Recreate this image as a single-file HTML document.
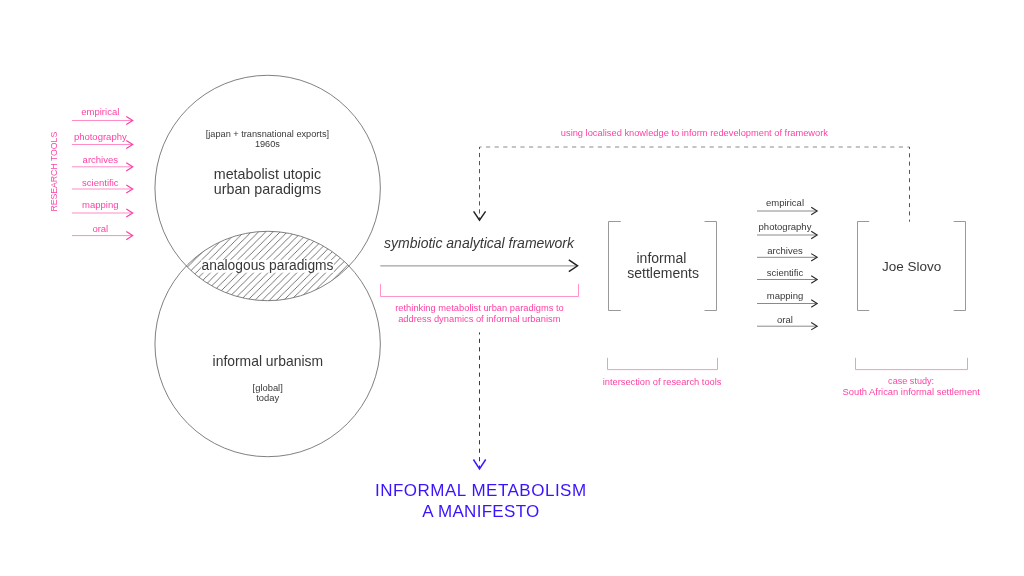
<!DOCTYPE html>
<html><head><meta charset="utf-8">
<style>
html,body{margin:0;padding:0;background:#fff;width:1024px;height:576px;overflow:hidden}
svg{display:block;will-change:transform}
text{font-family:"Liberation Sans",sans-serif}
.g{fill:#383838}
.p{fill:#ff3fa4}
.b{fill:#3a14ff}
</style></head><body>
<svg width="1024" height="576" viewBox="0 0 1024 576">
<defs>
  <clipPath id="ctop"><circle cx="267.65" cy="188" r="112.7"/></clipPath>
  <pattern id="hatch" patternUnits="userSpaceOnUse" width="7.2" height="7.2" patternTransform="translate(0.8,0)">
    <path d="M-1,1 L1,-1 M-0.5,7.7 L7.7,-0.5 M6.2,8.2 L8.2,6.2" stroke="#3a3a3a" stroke-width="0.7"/>
  </pattern>
</defs>


<!-- lens hatch -->
<g clip-path="url(#ctop)">
  <circle cx="267.65" cy="344" r="112.7" fill="url(#hatch)"/>
</g>
<rect x="201.2" y="259.8" width="132.6" height="12.9" fill="#fff"/>
<!-- circles -->
<circle cx="267.65" cy="188" r="112.7" fill="none" stroke="#606060" stroke-width="0.8"/>
<circle cx="267.65" cy="344" r="112.7" fill="none" stroke="#606060" stroke-width="0.8"/>

<!-- left pink arrows -->
<g stroke="#ff8cc6" stroke-width="1" fill="none">
  <path d="M72,120.5 H132.5"/>
  <path d="M72,144.5 H132.5"/>
  <path d="M72,166.8 H132.5"/>
  <path d="M72,189.0 H132.5"/>
  <path d="M72,213.0 H132.5"/>
  <path d="M72,235.6 H132.5"/>
</g>
<g stroke="#ff3d9e" stroke-width="1.15" fill="none" stroke-linejoin="miter">
  <path d="M126.3,116.4 L132.7,120.5 L126.3,124.6"/>
  <path d="M126.3,140.4 L132.7,144.5 L126.3,148.6"/>
  <path d="M126.3,162.7 L132.7,166.8 L126.3,170.9"/>
  <path d="M126.3,184.9 L132.7,189.0 L126.3,193.1"/>
  <path d="M126.3,208.9 L132.7,213.0 L126.3,217.1"/>
  <path d="M126.3,231.5 L132.7,235.6 L126.3,239.7"/>
</g>
<g class="p" font-size="9.5" text-anchor="middle">
  <text x="100.3" y="114.8">empirical</text>
  <text x="100.3" y="139.5">photography</text>
  <text x="100.3" y="163">archives</text>
  <text x="100.3" y="185.6">scientific</text>
  <text x="100.3" y="207.8">mapping</text>
  <text x="100.3" y="231.7">oral</text>
</g>
<text class="p" font-size="8.7" text-anchor="middle" transform="translate(56.6,171.7) rotate(-90)">RESEARCH TOOLS</text>

<!-- circle texts -->
<g class="g" text-anchor="middle">
  <text x="267.4" y="136.5" font-size="9.2">[japan + transnational exports]</text>
  <text x="267.4" y="146.6" font-size="9.2">1960s</text>
  <text x="267.4" y="178.5" font-size="14.3">metabolist utopic</text>
  <text x="267.4" y="194.3" font-size="14.3">urban paradigms</text>
  <text x="267.5" y="269.5" font-size="13.8">analogous paradigms</text>
  <text x="267.8" y="366.2" font-size="13.9">informal urbanism</text>
  <text x="267.7" y="391.1" font-size="9.4">[global]</text>
  <text x="267.7" y="401.1" font-size="9.4">today</text>
</g>

<!-- main arrow -->
<path d="M380.3,265.9 H577" stroke="#8a8a8a" stroke-width="1" fill="none"/>
<path d="M568.8,259.9 L577.6,265.8 L568.8,271.6" stroke="#222" stroke-width="1.4" fill="none"/>
<text class="g" x="479" y="247.5" font-size="14" font-style="italic" text-anchor="middle">symbiotic analytical framework</text>
<path d="M380.5,283.9 V296.5 H578.5 V283.9" stroke="#ff94c9" stroke-width="1" fill="none"/>
<g class="p" font-size="9.33" text-anchor="middle">
  <text x="479.5" y="311">rethinking metabolist urban paradigms to</text>
  <text x="479.3" y="321.7">address dynamics of informal urbanism</text>
</g>

<!-- blue dashed arrow -->
<path d="M479.5,332.4 V468" stroke="#3a14ff" stroke-width="1" stroke-dasharray="4.2,4.25" stroke-dashoffset="2.1" fill="none"/>
<path d="M473.4,459.5 L479.5,469 L485.7,459.5" stroke="#3a14ff" stroke-width="1.45" fill="none"/>
<g class="b" style="font-size:17px;letter-spacing:0.5px" text-anchor="middle">
  <text x="480.8" y="496.2">INFORMAL METABOLISM</text>
  <text x="480.9" y="516.9" style="letter-spacing:0.3px">A MANIFESTO</text>
</g>

<!-- top dashed feedback -->
<path d="M479.5,147 H909.5" stroke="#8a8a8a" stroke-width="1" stroke-dasharray="4.2,4.4" stroke-dashoffset="2.1" fill="none"/>
<path d="M479.5,147 V220" stroke="#555" stroke-width="1" stroke-dasharray="4.2,3.85" stroke-dashoffset="2.1" fill="none"/>
<path d="M909.5,147 V221.7" stroke="#555" stroke-width="1" stroke-dasharray="4,4.3" stroke-dashoffset="2" fill="none"/>
<path d="M473.6,211.4 L479.5,220.2 L485.6,211.4" stroke="#222" stroke-width="1.45" fill="none"/>
<text class="p" x="694.4" y="135.6" font-size="9.3" text-anchor="middle">using localised knowledge to inform redevelopment of framework</text>

<!-- informal settlements box -->
<g stroke="#999" stroke-width="1" fill="none">
  <path d="M620.8,221.5 H608.5 V310.5 H620.8"/>
  <path d="M704.5,221.5 H716.5 V310.5 H704.5"/>
  <path d="M869.2,221.5 H857.5 V310.5 H869.2"/>
  <path d="M953.7,221.5 H965.5 V310.5 H953.7"/>
</g>
<g class="g" text-anchor="middle" font-size="14">
  <text x="661.4" y="262.5">informal</text>
  <text x="663.1" y="278.2">settlements</text>
  <text x="911.7" y="270.7" font-size="13.5">Joe Slovo</text>
</g>

<!-- right gray arrows -->
<g stroke="#8a8a8a" stroke-width="1" fill="none">
  <path d="M757,211.0 H817"/>
  <path d="M757,235.0 H817"/>
  <path d="M757,257.3 H817"/>
  <path d="M757,279.5 H817"/>
  <path d="M757,303.5 H817"/>
  <path d="M757,326.2 H817"/>
</g>
<g stroke="#2a2a2a" stroke-width="1.1" fill="none">
  <path d="M811.2,207.3 L817.2,211.0 L811.2,214.7"/>
  <path d="M811.2,231.3 L817.2,235.0 L811.2,238.7"/>
  <path d="M811.2,253.6 L817.2,257.3 L811.2,261.0"/>
  <path d="M811.2,275.8 L817.2,279.5 L811.2,283.2"/>
  <path d="M811.2,299.8 L817.2,303.5 L811.2,307.2"/>
  <path d="M811.2,322.5 L817.2,326.2 L811.2,329.9"/>
</g>
<g class="g" font-size="9.5" text-anchor="middle">
  <text x="785" y="205.6">empirical</text>
  <text x="785" y="230">photography</text>
  <text x="785" y="253.9">archives</text>
  <text x="785" y="276.3">scientific</text>
  <text x="785" y="298.6">mapping</text>
  <text x="785" y="322.5">oral</text>
</g>

<!-- pink bottom brackets -->
<g stroke="#ff94c9" stroke-width="1" fill="none">
  <path d="M607.5,357.8 V369.6 H717.5 V357.8"/>
  <path d="M855.5,357.8 V369.6 H967.5 V357.8"/>
</g>
<g class="p" text-anchor="middle">
  <text x="662.1" y="384.6" font-size="9.3">intersection of research tools</text>
  <text x="911.1" y="384.4" font-size="9.1">case study:</text>
  <text x="911.25" y="394.7" font-size="9.37">South African informal settlement</text>
</g>
</svg>
</body></html>
